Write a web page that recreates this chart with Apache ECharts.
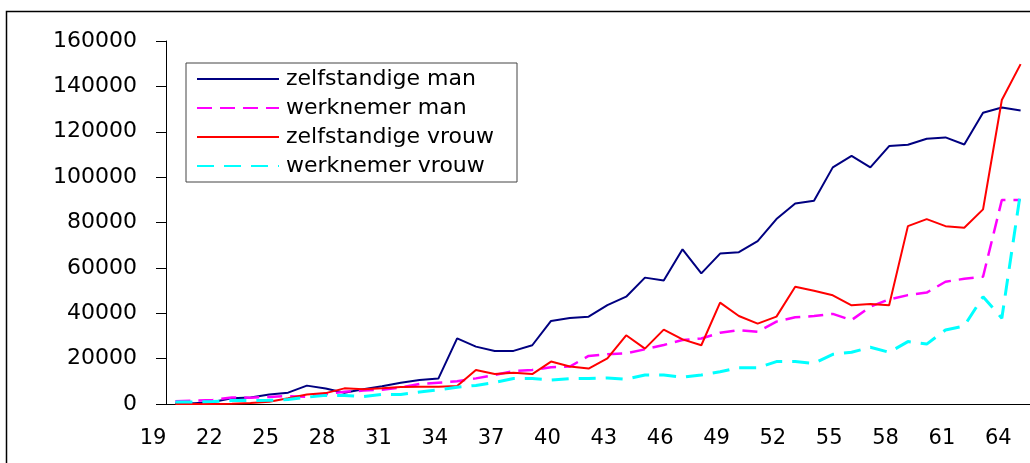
<!DOCTYPE html>
<html>
<head>
<meta charset="utf-8">
<script src="https://cdn.jsdelivr.net/npm/echarts@6/dist/echarts.min.js"></script>
<style>
  html, body { margin: 0; padding: 0; background: #fff; }
  #chart { width: 1030px; height: 463px; }
</style>
</head>
<body>
<div id="chart"></div>
<script>
// leeftijden 19 t/m 64
var ages = [];
for (var a = 19; a <= 64; a++) ages.push(String(a));

var yTicks = [0, 20000, 40000, 60000, 80000, 100000, 120000, 140000, 160000];

var zelfstandigeMan = [300, 300, 900, 2500, 2900, 4200, 5000, 8100, 6800, 5000, 6500, 7800, 9400, 10600, 11200,
  28900, 25300, 23400, 23400, 25900, 36600, 37900, 38500, 43600, 47300, 55700, 54400, 68200, 57600, 66300, 66900, 71800,
  81500, 88400, 89600, 104300, 109400, 104300, 113700, 114300, 116900, 117500, 114400, 128400, 130700, 129400];

var werknemerMan = [1200, 1500, 1800, 2900, 2800, 3100, 3500, 3200, 4300, 5400, 5900, 6300, 7300, 8800, 9400,
  10000, 11300, 12800, 14500, 15000, 16200, 16500, 21200, 21900, 22300, 24100, 26000, 28200, 28900, 31400, 32600, 31800,
  36300, 38200, 38800, 39700, 37000, 42900, 46100, 48000, 49100, 53900, 55200, 56100, 89900, 89900];

var zelfstandigeVrouw = [0, 0, 0, 100, 400, 1000, 2500, 4200, 4800, 6900, 6500, 6900, 7500, 7600, 7600,
  7900, 15000, 13200, 13800, 13200, 18700, 16500, 15600, 20100, 30300, 24400, 32800, 28500, 25900, 44700, 38800, 35400,
  38500, 51700, 49900, 47900, 43500, 44100, 43500, 78400, 81500, 78400, 77700, 85800, 134000, 149800];

var werknemerVrouw = [900, 900, 1100, 1500, 1500, 1600, 2000, 3000, 3800, 3800, 3300, 4200, 4200, 5300, 6200,
  7400, 8200, 9500, 11200, 11200, 10600, 11200, 11200, 11500, 10900, 12800, 12800, 11800, 12800, 14200, 16000, 16000,
  18700, 18700, 17900, 21900, 22800, 25000, 22800, 27500, 26400, 32600, 34400, 47300, 37800, 93600];

var font = 'DejaVu Sans';
var chart = echarts.init(document.getElementById('chart'));

var option = {
  animation: false,
  backgroundColor: '#fff',
  graphic: [{
    type: 'rect',
    left: 4, top: 9,
    silent: true,
    z: -10,
    shape: { width: 1100, height: 600 },
    style: { fill: 'none', stroke: '#000', lineWidth: 1.5 }
  }],
  grid: { left: 166, top: 41, width: 870, height: 363 },
  legend: {
    orient: 'vertical',
    left: 186, top: 63,
    padding: [5, 23, 5, 10],
    itemGap: 7,
    itemWidth: 82,
    itemHeight: 14,
    borderColor: '#444',
    borderWidth: 1,
    backgroundColor: '#fff',
    itemStyle: { color: 'transparent', borderWidth: 0, opacity: 0 },
    textStyle: { fontFamily: font, fontSize: 22, color: '#000', lineHeight: 22, padding: [0, 0, 0, 2] },
    data: ['zelfstandige man', 'werknemer man', 'zelfstandige vrouw', 'werknemer vrouw']
  },
  xAxis: {
    type: 'category',
    data: ages,
    boundaryGap: true,
    axisLine: { lineStyle: { color: '#000', width: 1 } },
    axisTick: { interval: 0, length: 6, lineStyle: { color: '#000' } },
    axisLabel: {
      interval: 2,
      margin: 24,
      align: 'right',
      padding: [0, 9, 0, 0],
      fontFamily: font,
      fontSize: 21,
      color: '#000'
    },
    splitLine: { show: false }
  },
  yAxis: {
    type: 'value',
    min: yTicks[0],
    max: yTicks[yTicks.length - 1],
    interval: 20000,
    axisLine: { show: true, lineStyle: { color: '#000', width: 1 } },
    axisTick: { show: true, length: 10, lineStyle: { color: '#000' } },
    axisLabel: {
      margin: 29, fontFamily: font, fontSize: 22, color: '#000',
      formatter: function (v) { return String(v); }
    },
    splitLine: { show: false }
  },
  series: [
    {
      name: 'zelfstandige man', type: 'line', data: zelfstandigeMan,
      symbol: 'none', color: '#000080',
      lineStyle: { color: '#000080', width: 2 }
    },
    {
      name: 'werknemer man', type: 'line', data: werknemerMan,
      symbol: 'none', color: '#ff00ff',
      lineStyle: { color: '#ff00ff', width: 2.5, type: [15, 8] }
    },
    {
      name: 'zelfstandige vrouw', type: 'line', data: zelfstandigeVrouw,
      symbol: 'none', color: '#ff0000',
      lineStyle: { color: '#ff0000', width: 2 }
    },
    {
      name: 'werknemer vrouw', type: 'line', data: werknemerVrouw,
      symbol: 'none', color: '#00ffff',
      lineStyle: { color: '#00ffff', width: 3, type: [17, 10] }
    }
  ]
};

chart.setOption(option);
</script>
</body>
</html>
